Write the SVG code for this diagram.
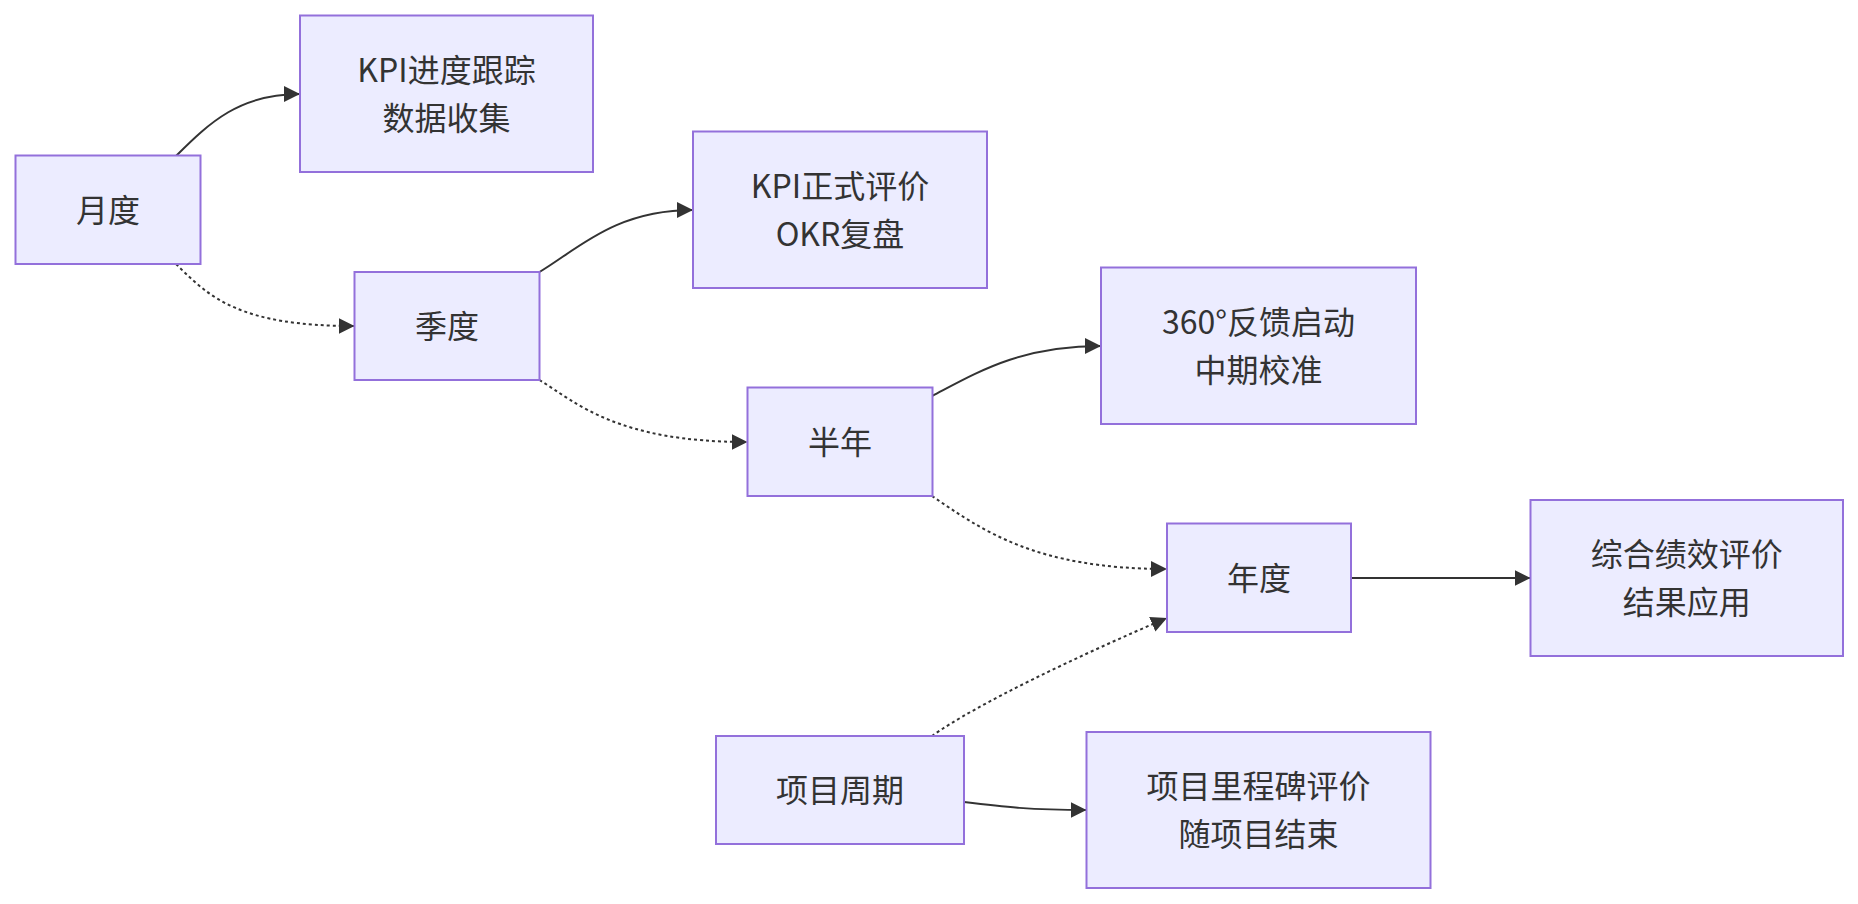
<svg xmlns="http://www.w3.org/2000/svg" width="1858" height="904" viewBox="0 0 1858 904">
<style>
.node rect{fill:#ECECFF;stroke:#9370DB;stroke-width:2}
.node text{font-family:"Noto Sans CJK SC","Noto Sans",sans-serif;font-size:32px;fill:#333333;text-anchor:middle}
.edge{fill:none;stroke:#333333;stroke-width:2}
.dot{stroke-dasharray:3 3}
</style>
<defs>
<marker id="arrow" viewBox="0 0 10 10" refX="10" refY="5" markerUnits="userSpaceOnUse" markerWidth="16" markerHeight="16" orient="auto">
<path d="M0,0 L10,5 L0,10 z" fill="#333333"/>
</marker>
</defs>
<rect width="1858" height="904" fill="#ffffff"/>
<g id="edges">
<path class="edge" d="M176,156 C210,122 240,94 300,94" marker-end="url(#arrow)"/>
<path class="edge dot" d="M176,264 C210,298 240,326 354.5,326" marker-end="url(#arrow)"/>
<path class="edge" d="M539.5,272 C578,249 615,210 693,210" marker-end="url(#arrow)"/>
<path class="edge dot" d="M539.5,380 C578,404 618,442 747.5,442" marker-end="url(#arrow)"/>
<path class="edge" d="M932,396 C978,372 1020,346 1101,346" marker-end="url(#arrow)"/>
<path class="edge dot" d="M932,496 C982,530 1035,569 1167,569" marker-end="url(#arrow)"/>
<path class="edge dot" d="M932,736 C975,705 1080,655 1167,618" marker-end="url(#arrow)"/>
<path class="edge" d="M1351,578 L1530.5,578" marker-end="url(#arrow)"/>
<path class="edge" d="M964,802 C1005,807 1030,810 1086.5,810" marker-end="url(#arrow)"/>
</g>
<g id="node-monthly" class="node">
<rect x="15.5" y="155.5" width="185" height="108.5"/>
<text x="108" y="221.5">月度</text>
</g>
<g id="node-kpi-track" class="node">
<rect x="300" y="15.5" width="293" height="156.5"/>
<text x="446.5" y="81.5">KPI进度跟踪</text>
<text x="446.5" y="129.5">数据收集</text>
</g>
<g id="node-quarterly" class="node">
<rect x="354.5" y="272" width="185" height="108"/>
<text x="447" y="337.5">季度</text>
</g>
<g id="node-kpi-eval" class="node">
<rect x="693" y="131.5" width="294" height="156.5"/>
<text x="840" y="197.5">KPI正式评价</text>
<text x="840" y="245.5">OKR复盘</text>
</g>
<g id="node-half" class="node">
<rect x="747.5" y="387.5" width="185" height="108.5"/>
<text x="840" y="453.5">半年</text>
</g>
<g id="node-360" class="node">
<rect x="1101" y="267.5" width="315" height="156.5"/>
<text x="1258.5" y="333.5">360°反馈启动</text>
<text x="1258.5" y="381.5">中期校准</text>
</g>
<g id="node-annual" class="node">
<rect x="1167" y="523.5" width="184" height="108.5"/>
<text x="1259" y="589.5">年度</text>
</g>
<g id="node-overall" class="node">
<rect x="1530.5" y="500" width="312.5" height="156"/>
<text x="1686.75" y="566">综合绩效评价</text>
<text x="1686.75" y="614">结果应用</text>
</g>
<g id="node-project" class="node">
<rect x="716" y="736" width="248" height="108"/>
<text x="840" y="801.5">项目周期</text>
</g>
<g id="node-milestone" class="node">
<rect x="1086.5" y="732" width="344" height="156"/>
<text x="1258.5" y="798">项目里程碑评价</text>
<text x="1258.5" y="846">随项目结束</text>
</g>
</svg>
